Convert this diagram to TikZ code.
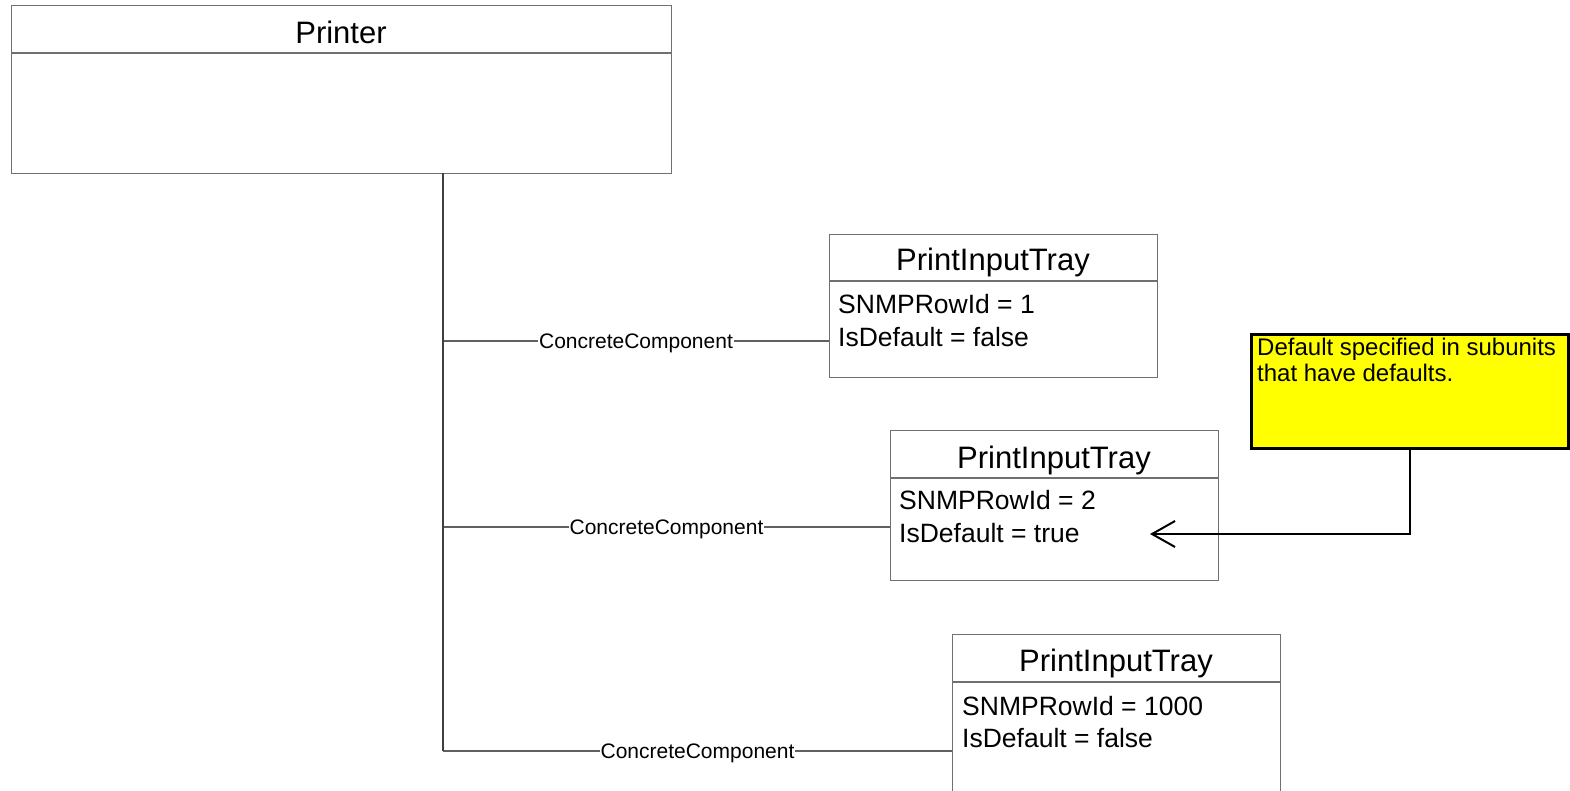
\documentclass[tikz,border=0pt]{standalone}
\usepackage{fontspec}
\setmainfont{Liberation Sans}
\usetikzlibrary{arrows.meta}
\definecolor{boxgray}{HTML}{707070}
\definecolor{linegray}{HTML}{606060}
\definecolor{trunkgray}{HTML}{404040}
\definecolor{noteyellow}{HTML}{FFFF00}
\begin{document}
\begin{tikzpicture}[x=1pt,y=-1pt,
  box/.style={draw=boxgray, line width=1.3pt, fill=white, inner sep=0pt, anchor=north west},
  divider/.style={draw=boxgray, line width=1.3pt},
  titletext/.style={inner sep=0pt, anchor=base, font=\fontsize{31}{36}\selectfont},
  bodytext/.style={inner sep=0pt, anchor=base west, font=\fontsize{26.5}{33}\selectfont},
  branch/.style={draw=linegray, line width=1.3pt},
  trunk/.style={draw=trunkgray, line width=2pt},
  branchlabel/.style={fill=white, inner sep=1pt, anchor=base, yshift=-7.5pt, font=\fontsize{21}{24}\selectfont},
  notebox/.style={draw=black, line width=2.6pt, fill=noteyellow, inner sep=0pt, anchor=north west},
  notetext/.style={inner sep=0pt, anchor=base west, font=\fontsize{24}{26}\selectfont},
  notearrow/.style={draw=black, line width=2.6pt, -{Straight Barb[length=23pt,width=26pt,line width=2pt]}}
]
\useasboundingbox (0,0) rectangle (1570,790);
\clip (0,0) rectangle (1570,790);

% Printer
\node[box, minimum width=660pt, minimum height=168pt] (printer) at (11,5) {};
\draw[divider] (printer.west |- 0,53) -- (printer.east |- 0,53);
\node[titletext] (printerT) at (341,43) {Printer};

% Tray 1
\node[box, minimum width=328pt, minimum height=143pt] (tray1) at (829,234) {};
\draw[divider] (tray1.west |- 0,281) -- (tray1.east |- 0,281);
\node[titletext] (tray1T) at (993,270) {PrintInputTray};
\node[bodytext] (tray1a) at (838,313) {SNMPRowId = 1};
\node[bodytext] (tray1b) at (838,346) {IsDefault = false};

% Tray 2
\node[box, minimum width=328pt, minimum height=150pt] (tray2) at (890,430) {};
\draw[divider] (tray2.west |- 0,478) -- (tray2.east |- 0,478);
\node[titletext] (tray2T) at (1054,468) {PrintInputTray};
\node[bodytext] (tray2a) at (899,509) {SNMPRowId = 2};
\node[bodytext] (tray2b) at (899,542) {IsDefault = true};

% Tray 3
\node[box, minimum width=328pt, minimum height=180pt] (tray3) at (952,634) {};
\draw[divider] (tray3.west |- 0,682) -- (tray3.east |- 0,682);
\node[titletext] (tray3T) at (1116,671) {PrintInputTray};
\node[bodytext] (tray3a) at (962,715) {SNMPRowId = 1000};
\node[bodytext] (tray3b) at (962,747) {IsDefault = false};

% Trunk and branches
\coordinate (top) at (443,173);
\coordinate (j1) at (443,341);
\coordinate (j2) at (443,527);
\coordinate (j3) at (443,751);
\draw[branch] (j1) -- node[branchlabel] (l1) {ConcreteComponent} (j1 -| tray1.west);
\draw[branch] (j2) -- node[branchlabel] (l2) {ConcreteComponent} (j2 -| tray2.west);
\draw[branch] (j3) -- node[branchlabel] (l3) {ConcreteComponent} (j3 -| tray3.west);
\draw[trunk] (top) -- (j3);

% Note
\node[notebox, minimum width=317pt, minimum height=114pt] (note) at (1250,333) {};
\node[notetext] (noteT1) at (1257,355) {Default specified in subunits};
\node[notetext] (noteT2) at (1257,381) {that have defaults.};
\coordinate (tip) at (1150,534);
\draw[notearrow] (note.south) |- (tip);
\end{tikzpicture}
\end{document}
